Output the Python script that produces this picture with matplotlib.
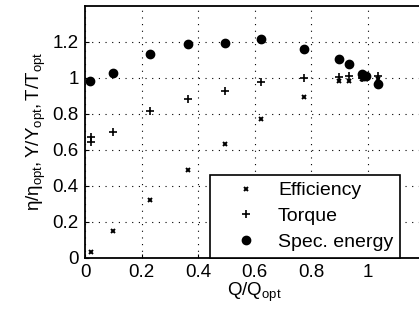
import matplotlib.pyplot as plt

plt.rcParams["font.family"] = ["Liberation Sans", "DejaVu Sans"]
plt.rcParams["mathtext.fontset"] = "custom"
plt.rcParams["mathtext.rm"] = "Liberation Sans"
plt.rcParams["mathtext.it"] = "Liberation Sans"

# Q/Q_opt for each operating point
q_eff = [0.020, 0.100, 0.230, 0.365, 0.495, 0.623, 0.773, 0.899, 0.933, 0.980, 0.994, 1.037]
efficiency = [0.030, 0.146, 0.318, 0.486, 0.630, 0.769, 0.893, 0.980, 0.984, 0.991, 0.995, 0.991]

q_torque = [0.020, 0.020, 0.100, 0.230, 0.365, 0.495, 0.623, 0.773, 0.899, 0.933, 0.980, 1.037]
torque = [0.671, 0.640, 0.697, 0.817, 0.882, 0.926, 0.976, 0.996, 1.002, 1.010, 0.998, 1.008]

q_energy = [0.018, 0.100, 0.230, 0.365, 0.495, 0.623, 0.773, 0.899, 0.933, 0.980, 0.994, 1.037]
spec_energy = [0.983, 1.024, 1.133, 1.185, 1.190, 1.214, 1.161, 1.102, 1.074, 1.020, 1.008, 0.963]

fig = plt.figure(figsize=(4.19, 3.22), dpi=100)
ax = fig.add_axes([0.2029, 0.1997, 0.8105, 0.7826])

ax.plot(q_eff, efficiency, "x", color="k", markersize=3.5, markeredgewidth=1.4, label="Efficiency")
ax.plot(q_torque, torque, "+", color="k", markersize=6, markeredgewidth=1.2, label="Torque")
ax.plot(q_energy, spec_energy, "o", color="k", markersize=6, label="Spec. energy")

ax.set_xlim(0, 1.2)
ax.set_ylim(0, 1.4)
ax.set_xticks([0, 0.2, 0.4, 0.6, 0.8, 1.0])
ax.set_xticklabels(["0", "0.2", "0.4", "0.6", "0.8", "1"])
ax.set_yticks([0, 0.2, 0.4, 0.6, 0.8, 1.0, 1.2])
ax.set_yticklabels(["0", "0.2", "0.4", "0.6", "0.8", "1", "1.2"])
ax.tick_params(direction="in", length=3, labelsize=13.5, pad=4.5)
ax.grid(True, color="k", linestyle=(0, (1, 5)), linewidth=0.8)
for s in ax.spines.values():
    s.set_linewidth(1.3)

ax.set_xlabel(r"$\mathregular{Q/Q_{opt}}$", fontsize=13.5, labelpad=0)
ax.set_ylabel(r"$\mathregular{\eta/\eta_{opt}, Y/Y_{opt}, T/T_{opt}}$", fontsize=13.5, labelpad=3)

leg = ax.legend(loc="lower right", bbox_to_anchor=(0.9276, 0), borderaxespad=0,
                fontsize=14, fancybox=False, framealpha=1, edgecolor="k",
                handlelength=3.0, handletextpad=0.15, labelspacing=0.42, borderpad=0.35)
leg.get_frame().set_linewidth(1.2)

fig.savefig("out.png", dpi=100)
